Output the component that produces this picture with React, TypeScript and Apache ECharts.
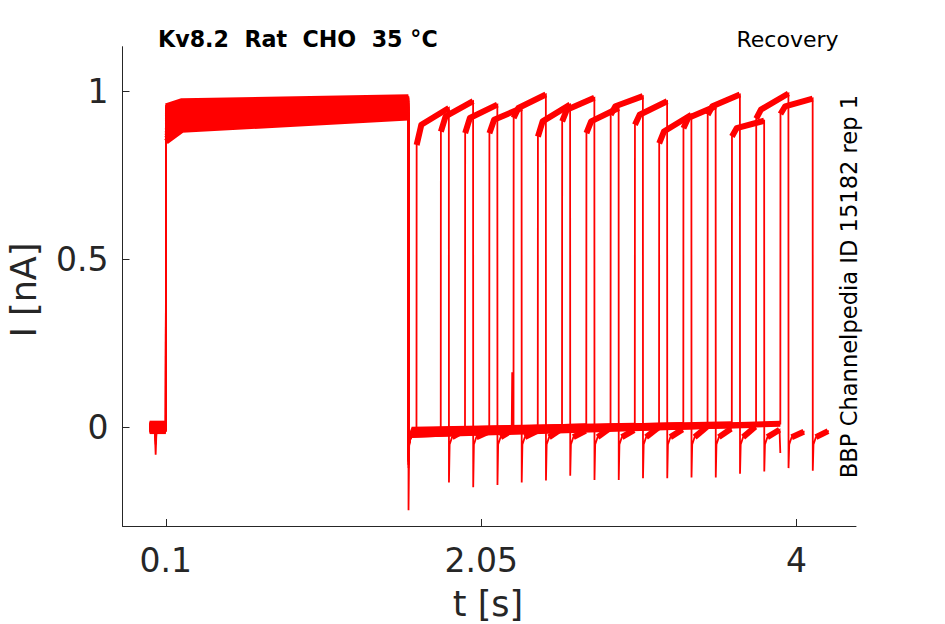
import React, { useEffect, useRef } from "react";
import * as echarts from "echarts";

// ---- axes ----
const xTicks = [0.1, 2.05, 4];
const yTicks = [0, 0.5, 1];
const xRange = [-0.168, 4.368];
const yRange = [-0.292, 1.132];

// ---- protocol timing (s) ----
const pulseOn = 0.1;
const pulseOff = 1.6;
const testDuration = 0.2;
const tailDuration = 0.1;
const dipTime = 0.037;
const sweepRise = [1.65, 1.8, 1.95, 2.1, 2.25, 2.4, 2.55, 2.7, 2.85, 3.0, 3.15, 3.3, 3.45, 3.6, 3.75, 3.9];

// ---- current levels (nA), one value per sweep ----
const holdLevel = [0.004, -0.006, 0.008, -0.002, 0.01, -0.01, 0.002, 0.006, -0.004, 0.0, 0.012, -0.008, 0.005, -0.003, 0.009, -0.005];
const holdDip = [-0.08, -0.006, 0.008, -0.05, 0.01, -0.01, 0.002, -0.04, -0.004, 0.0, 0.012, -0.03, 0.005, -0.003, 0.009, -0.005];
const preStart = [0.85, 0.93, 0.88, 0.9, 0.95, 0.865, 0.92, 0.895, 0.955, 0.91, 0.858, 0.905, 0.945, 0.872, 0.938, 0.925];
const preEarly = [0.885, 0.95, 0.905, 0.92, 0.965, 0.895, 0.94, 0.915, 0.97, 0.93, 0.89, 0.925, 0.96, 0.9, 0.955, 0.945];
const preEnd = [0.922, 0.968, 0.935, 0.95, 0.978, 0.928, 0.96, 0.945, 0.982, 0.955, 0.925, 0.952, 0.975, 0.932, 0.97, 0.962];
const offSpike = [-0.245, -0.11, -0.08, -0.1, -0.06, -0.09, -0.12, -0.07, -0.1, -0.05, -0.085, -0.11, -0.065, -0.095, -0.075, -0.1];
const offRecover = -0.045;
const gapStart = [-0.02, -0.014, -0.018, -0.01, -0.016, -0.008, -0.022, -0.012, -0.015, -0.006, -0.019, -0.011, -0.017, -0.009, -0.013, -0.021];
const gapLevel = [-0.012, -0.008, -0.01, -0.004, -0.006, 0.0, -0.002, 0.004, 0.002, 0.006, 0.004, 0.008, 0.006, 0.01, 0.008, 0.012];
const testOnset = [0.84, 0.88, 0.875, 0.875, 0.92, 0.865, 0.91, 0.875, 0.93, 0.9, 0.845, 0.89, 0.93, 0.865, 0.918, 0.932];
const testEarly = [0.9, 0.925, 0.92, 0.915, 0.95, 0.91, 0.945, 0.91, 0.955, 0.93, 0.88, 0.92, 0.955, 0.89, 0.945, 0.955];
const testEnd = [0.95, 0.97, 0.96, 0.95, 0.99, 0.96, 0.98, 0.95, 0.985, 0.97, 0.93, 0.955, 0.99, 0.912, 0.993, 0.978];
const tailMin = [-0.163, -0.177, -0.17, -0.163, -0.157, -0.143, -0.155, -0.155, -0.15, -0.15, -0.148, -0.148, -0.137, -0.13, -0.12, -0.128];
const tailRecoverDt = [0.005, 0.02];
const tailRecoverV = [-0.05, -0.028];
const endLevel = [-0.008, -0.012, -0.006, -0.01, -0.004, -0.009, -0.002, -0.007, 0.0, -0.005, 0.002, -0.003, 0.003, -0.006, -0.012, -0.01];
const endFinal = [-0.008, -0.012, -0.006, -0.01, -0.004, -0.009, -0.002, -0.007, 0.0, -0.005, 0.002, -0.003, 0.003, -0.075, -0.012, -0.01];

// transient artifact seen in one sweep during the recovery gap
const artifactSweep = 5;
const artifactTime = 2.242;
const artifactValue = 0.165;

type P = [number, number];

function sweepTrace(k: number): { thin: P[]; thick: P[][] } {
  const r = sweepRise[k];
  const f = r + testDuration;
  const e = f + tailDuration;
  const thin: P[] = [
    [0, holdLevel[k]],
    [dipTime - 0.006, holdLevel[k]],
    [dipTime, holdDip[k]],
    [dipTime + 0.006, holdLevel[k]],
    [pulseOn, holdLevel[k]],
    [pulseOn + 0.001, preStart[k]],
    [0.2, preEarly[k]],
    [pulseOff, preEnd[k]],
    [pulseOff + 0.0008, offSpike[k]],
    [pulseOff + 0.005, offRecover],
    [pulseOff + 0.02, gapStart[k]],
  ];
  if (k === artifactSweep) {
    thin.push([artifactTime - 0.003, gapLevel[k]]);
    thin.push([artifactTime, artifactValue]);
    thin.push([artifactTime + 0.003, gapLevel[k]]);
  }
  thin.push(
    [r, gapLevel[k]],
    [r + 0.001, testOnset[k]],
    [r + 0.03, testEarly[k]],
    [f, testEnd[k]],
    [f + 0.0008, tailMin[k]],
    [f + tailRecoverDt[0], tailRecoverV[0]],
    [f + tailRecoverDt[1], tailRecoverV[1]],
    [e - 0.005, endLevel[k]],
    [e, endFinal[k]]
  );
  const thick: P[][] = [
    [[0, holdLevel[k]], [pulseOn, holdLevel[k]]],
    [[pulseOn + 0.001, preStart[k]], [0.2, preEarly[k]], [pulseOff, preEnd[k]]],
    [[pulseOff + 0.02, gapStart[k]], [r, gapLevel[k]]],
    [[r + 0.001, testOnset[k]], [r + 0.03, testEarly[k]], [f, testEnd[k]]],
    [[f + tailRecoverDt[1], tailRecoverV[1]], [e - 0.005, endLevel[k]]],
  ];
  return { thin, thick };
}

const FONT = '"DejaVu Sans", "Liberation Sans", sans-serif';
const AXIS_COLOR = "#262626";
const TRACE = "#ff0000";

export default function App() {
  const ref = useRef<HTMLDivElement>(null);
  useEffect(() => {
    if (!ref.current) return;
    const chart = echarts.init(ref.current, undefined, { renderer: "svg" });
    const thinData: { coords: P[] }[] = [];
    const thickData: { coords: P[] }[] = [];
    sweepRise.forEach((_, k) => {
      const s = sweepTrace(k);
      thinData.push({ coords: s.thin });
      s.thick.forEach((c) => thickData.push({ coords: c }));
    });
    const fmt = (v: number) => String(v);
    chart.setOption({
      animation: false,
      textStyle: { fontFamily: FONT },
      grid: { left: 122.5, top: 46.7, right: 89, bottom: 98, containLabel: false },
      xAxis: {
        type: "value",
        min: xRange[0],
        max: xRange[1],
        axisLine: { show: true, onZero: false, lineStyle: { color: AXIS_COLOR, width: 1 } },
        axisTick: { show: true, inside: true, length: 7, customValues: xTicks, lineStyle: { color: AXIS_COLOR } },
        axisLabel: { show: true, customValues: xTicks, formatter: fmt, fontSize: 33, color: AXIS_COLOR, margin: 18, fontFamily: FONT },
        splitLine: { show: false },
      },
      yAxis: {
        type: "value",
        min: yRange[0],
        max: yRange[1],
        axisLine: { show: true, onZero: false, lineStyle: { color: AXIS_COLOR, width: 1 } },
        axisTick: { show: true, inside: true, length: 7, customValues: yTicks, lineStyle: { color: AXIS_COLOR } },
        axisLabel: { show: true, customValues: yTicks, formatter: fmt, fontSize: 33, color: AXIS_COLOR, margin: 14, fontFamily: FONT },
        splitLine: { show: false },
      },
      series: [
        {
          type: "lines",
          coordinateSystem: "cartesian2d",
          polyline: true,
          silent: true,
          lineStyle: { color: TRACE, width: 6, opacity: 1, join: "round" },
          data: thickData,
        },
        {
          type: "lines",
          coordinateSystem: "cartesian2d",
          polyline: true,
          silent: true,
          lineStyle: { color: TRACE, width: 1.8, opacity: 1 },
          data: thinData,
        },
      ],
      graphic: [
        {
          type: "text",
          x: 158,
          y: 39,
          style: { text: "Kv8.2  Rat  CHO  35 °C", fontSize: 22.2, fontWeight: "bold", fontFamily: FONT, fill: "#000", align: "left", verticalAlign: "middle" },
        },
        {
          type: "text",
          x: 787.5,
          y: 39,
          style: { text: "Recovery", fontSize: 22, fontFamily: FONT, fill: "#000", align: "center", verticalAlign: "middle" },
        },
        {
          type: "text",
          x: 849,
          y: 286.5,
          rotation: Math.PI / 2,
          style: { text: "BBP Channelpedia ID 15182 rep 1", fontSize: 22.6, fontFamily: FONT, fill: "#000", align: "center", verticalAlign: "middle" },
        },
        {
          type: "text",
          x: 488,
          y: 604,
          style: { text: "t [s]", fontSize: 35, fontFamily: FONT, fill: AXIS_COLOR, align: "center", verticalAlign: "middle" },
        },
        {
          type: "text",
          x: 24,
          y: 290,
          rotation: Math.PI / 2,
          style: { text: "I [nA]", fontSize: 35, fontFamily: FONT, fill: AXIS_COLOR, align: "center", verticalAlign: "middle" },
        },
      ],
    });
    return () => chart.dispose();
  }, []);
  return <div ref={ref} style={{ position: "absolute", left: 0, top: 0, width: 945, height: 624 }} />;
}
